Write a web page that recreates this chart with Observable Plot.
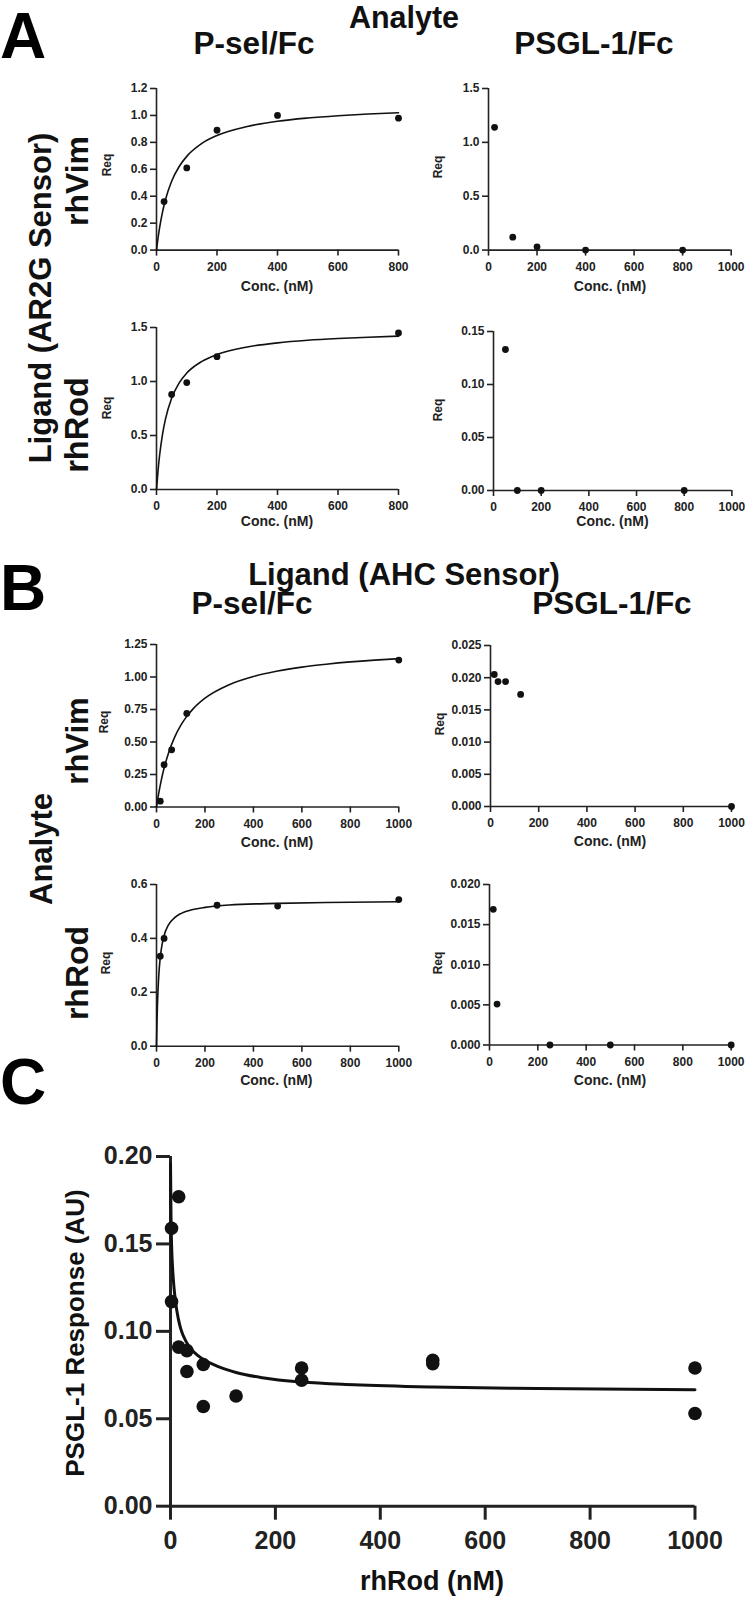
<!DOCTYPE html>
<html><head><meta charset="utf-8">
<script src="https://cdn.jsdelivr.net/npm/d3@7"></script>
<script src="https://cdn.jsdelivr.net/npm/@observablehq/plot@0.6"></script>
<style>
body{margin:0;background:#fff;}
#fig{position:relative;width:745px;height:1599px;overflow:hidden;font-family:"Liberation Sans",Arial,sans-serif;font-weight:bold;color:#111;}
.lbl{position:absolute;white-space:nowrap;line-height:1;}
</style></head>
<body><div id="fig"></div>
<script>
// ---------- Data: Panel A (AR2G sensor) ----------
const concA1 = [25, 100, 200, 400, 800];
const reqA1  = [0.36, 0.61, 0.89, 1.00, 0.98];
const concA2 = [25, 100, 200, 400, 800];
const reqA2  = [1.14, 0.12, 0.03, 0.0, 0.0];
const concA3 = [50, 100, 200, 800];
const reqA3  = [0.88, 0.99, 1.23, 1.45];
const concA4 = [50, 100, 200, 800];
const reqA4  = [0.133, 0, 0, 0];
// fitted curves
const fitXA  = [0, 5, 10, 20, 30, 50, 75, 100, 150, 200, 300, 400, 500, 600, 700, 800];
const fitYA1 = [0, 0.088, 0.163, 0.284, 0.377, 0.511, 0.621, 0.696, 0.792, 0.851, 0.918, 0.957, 0.981, 0.998, 1.011, 1.020];
const fitYA3 = [0, 0.173, 0.310, 0.513, 0.656, 0.845, 0.987, 1.078, 1.186, 1.250, 1.320, 1.358, 1.382, 1.398, 1.410, 1.420];

// ---------- Data: Panel B (AHC sensor) ----------
const concB1 = [15.6, 31.25, 62.5, 125, 1000];
const reqB1  = [0.045, 0.325, 0.44, 0.72, 1.13];
const concB2 = [15.6, 31.25, 62.5, 125, 1000];
const reqB2  = [0.0205, 0.0194, 0.0194, 0.0174, 0.0];
const concB3 = [15.6, 31.25, 250, 500, 1000];
const reqB3  = [0.334, 0.40, 0.523, 0.52, 0.544];
const concB4 = [15.6, 31.25, 250, 500, 1000];
const reqB4  = [0.0169, 0.0051, 0, 0, 0];
const fitXB1 = [0, 5, 10, 20, 30, 50, 75, 100, 125, 150, 200, 300, 400, 500, 600, 700, 800, 900, 1000];
const fitYB1 = [0, 0.060, 0.114, 0.209, 0.290, 0.418, 0.538, 0.628, 0.697, 0.753, 0.837, 0.941, 1.004, 1.046, 1.076, 1.098, 1.116, 1.130, 1.141];
const fitXB3 = [0, 1, 2, 4, 6, 8, 10, 15, 20, 30, 50, 75, 100, 150, 200, 300, 500, 700, 1000];
const fitYB3 = [0, 0.049, 0.090, 0.155, 0.203, 0.240, 0.271, 0.325, 0.361, 0.406, 0.451, 0.477, 0.492, 0.507, 0.515, 0.524, 0.530, 0.533, 0.536];

// ---------- Data: Panel C ----------
const rodC  = [2, 2, 15.6, 15.6, 31.25, 31.25, 62.5, 62.5, 125, 250, 250, 500, 500, 1000, 1000];
const respC = [0.159, 0.117, 0.177, 0.091, 0.089, 0.077, 0.081, 0.057, 0.063, 0.079, 0.072, 0.0835, 0.0815, 0.079, 0.053];
const fitXC = [0, 1, 2, 4, 7, 10, 15, 20, 30, 45, 62.5, 90, 125, 175, 250, 350, 500, 700, 1000];
const fitYC = [0.196, 0.165, 0.150, 0.136, 0.124, 0.116, 0.107, 0.101, 0.094, 0.088, 0.084, 0.080, 0.0765, 0.0735, 0.0710, 0.0695, 0.0682, 0.0673, 0.0666];

// ---------- Tick values ----------
const ticks800 = [0, 200, 400, 600, 800];
const ticks1000 = [0, 200, 400, 600, 800, 1000];

const fig = document.getElementById("fig");
const zip = (xs, ys) => xs.map((x, i) => ({x, y: ys[i]}));

function panel(o) {
  const ml = o.ml ?? 70, mr = o.mr ?? 26, mt = o.mt ?? 14, mb = o.mb ?? 36;
  const w = (o.xR - o.xL) + ml + mr, h = (o.yB - o.yT) + mt + mb;
  const sw = o.sw ?? 1.6, col = "#222";
  const marks = [
    Plot.ruleX([0], {stroke: col, strokeWidth: sw}),
    Plot.ruleY([0], {stroke: col, strokeWidth: sw}),
    Plot.axisY({ticks: o.yTicks, tickFormat: d3.format(o.yFmt), tickSize: o.ts ?? 6, tickPadding: o.tpy ?? 3,
      label: null, stroke: col, strokeWidth: sw}),
    Plot.axisX({ticks: o.xTicks, tickFormat: d3.format("d"), tickSize: o.ts ?? 6, tickPadding: o.tpx ?? 6,
      label: null, stroke: col, strokeWidth: sw})
  ];
  if (o.fx) marks.push(Plot.line(zip(o.fx, o.fy), {x: "x", y: "y", curve: "monotone-x", stroke: "#111", strokeWidth: o.lw ?? 1.6}));
  marks.push(Plot.dot(zip(o.px, o.py), {x: "x", y: "y", r: o.r ?? 3.4, fill: "#111", stroke: "none"}));
  const svg = Plot.plot({
    width: w, height: h, marginLeft: ml, marginRight: mr, marginTop: mt, marginBottom: mb,
    x: {domain: o.xDom}, y: {domain: o.yDom},
    style: {fontFamily: '"Liberation Sans", Arial, sans-serif', fontWeight: "bold", fontSize: (o.fs ?? 12) + "px",
      color: "#222", background: "transparent", overflow: "visible"},
    marks
  });
  svg.style.position = "absolute";
  svg.style.left = (o.xL - ml) + "px";
  svg.style.top = (o.yT - mt) + "px";
  svg.style.maxWidth = "none";
  fig.appendChild(svg);
}

function label(txt, x, baseline, size, anchor = "middle", color = "#111") {
  const d = document.createElement("div");
  d.className = "lbl";
  d.textContent = txt;
  d.style.fontSize = size + "px";
  d.style.color = color;
  d.style.top = (baseline - 0.8465 * size) + "px";
  d.style.left = x + "px";
  if (anchor === "middle") d.style.transform = "translateX(-50%)";
  fig.appendChild(d);
}
function vlabel(txt, cx, cy, size, color = "#111") {
  const d = document.createElement("div");
  d.className = "lbl";
  d.textContent = txt;
  d.style.fontSize = size + "px";
  d.style.color = color;
  d.style.left = cx + "px";
  d.style.top = cy + "px";
  d.style.transform = "translate(-50%,-50%) rotate(-90deg)";
  fig.appendChild(d);
}

// ---------- Panel A ----------
panel({xL: 156, xR: 398, yT: 87.7, yB: 249.3, xDom: [0, 800], yDom: [0, 1.2], xTicks: ticks800,
  yTicks: [0, 0.2, 0.4, 0.6, 0.8, 1.0, 1.2], yFmt: ".1f", px: concA1, py: reqA1, fx: fitXA, fy: fitYA1});
panel({xL: 488.3, xR: 731, yT: 87.7, yB: 249.3, xDom: [0, 1000], yDom: [0, 1.5], xTicks: ticks1000,
  yTicks: [0, 0.5, 1.0, 1.5], yFmt: ".1f", px: concA2, py: reqA2});
panel({xL: 156, xR: 398, yT: 327.3, yB: 489.3, xDom: [0, 800], yDom: [0, 1.5], xTicks: ticks800,
  yTicks: [0, 0.5, 1.0, 1.5], yFmt: ".1f", px: concA3, py: reqA3, fx: fitXA, fy: fitYA3});
panel({xL: 493.3, xR: 731.7, yT: 331, yB: 490, xDom: [0, 1000], yDom: [0, 0.15], xTicks: ticks1000,
  yTicks: [0, 0.05, 0.10, 0.15], yFmt: ".2f", px: concA4, py: reqA4});

// ---------- Panel B ----------
panel({xL: 156, xR: 398.3, yT: 643.5, yB: 806, xDom: [0, 1000], yDom: [0, 1.25], xTicks: ticks1000,
  yTicks: [0, 0.25, 0.5, 0.75, 1.0, 1.25], yFmt: ".2f", px: concB1, py: reqB1, fx: fitXB1, fy: fitYB1});
panel({xL: 490, xR: 731, yT: 645, yB: 806, xDom: [0, 1000], yDom: [0, 0.025], xTicks: ticks1000,
  yTicks: [0, 0.005, 0.010, 0.015, 0.020, 0.025], yFmt: ".3f", px: concB2, py: reqB2});
panel({xL: 156, xR: 398.3, yT: 884.3, yB: 1046, xDom: [0, 1000], yDom: [0, 0.6], xTicks: ticks1000,
  yTicks: [0, 0.2, 0.4, 0.6], yFmt: ".1f", px: concB3, py: reqB3, fx: fitXB3, fy: fitYB3});
panel({xL: 489.3, xR: 731, yT: 884, yB: 1044.5, xDom: [0, 1000], yDom: [0, 0.02], xTicks: ticks1000,
  yTicks: [0, 0.005, 0.010, 0.015, 0.020], yFmt: ".3f", px: concB4, py: reqB4});

// ---------- Panel C ----------
panel({xL: 170, xR: 694.5, yT: 1156, yB: 1505.7, xDom: [0, 1000], yDom: [0, 0.20], xTicks: ticks1000,
  yTicks: [0, 0.05, 0.10, 0.15, 0.20], yFmt: ".2f", px: rodC, py: respC, fx: fitXC, fy: fitYC,
  ml: 110, mr: 50, mt: 16, mb: 56, sw: 3, lw: 3, ts: 14, tpy: 4, tpx: 11.5, fs: 25, r: 6.8});

// ---------- Text ----------
label("A", 0, 58, 64, "start", "#000");
label("Analyte", 404, 28, 30.5);
label("P-sel/Fc", 254, 55, 31.5);
label("PSGL-1/Fc", 594, 55, 31.5);
vlabel("Ligand (AR2G Sensor)", 40, 298, 31);
vlabel("rhVim", 77, 181, 32);
vlabel("rhRod", 77, 425, 32.5);

label("B", 0, 610, 64, "start", "#000");
label("Ligand (AHC Sensor)", 404, 585, 31);
label("P-sel/Fc", 252, 615, 31.5);
label("PSGL-1/Fc", 612, 615, 31.5);
vlabel("rhVim", 77, 741, 31);
vlabel("Analyte", 41, 849, 31);
vlabel("rhRod", 77, 973, 32);

label("C", 0, 1104, 64, "start", "#000");

// small axis titles
const reqPos = [[107, 165], [438, 167], [106.5, 408], [438, 410], [104, 722], [440, 724], [106, 963], [438, 963]];
reqPos.forEach(([x, y]) => vlabel("Req", x, y, 12, "#222"));
const concPos = [[277, 291], [610, 291], [277, 526], [612.5, 526], [277, 847], [610, 846], [276.3, 1085], [610, 1085]];
concPos.forEach(([x, b]) => label("Conc. (nM)", x, b, 14, "middle", "#222"));

vlabel("PSGL-1 Response (AU)", 75, 1333, 26);
label("rhRod (nM)", 432, 1591, 27);
</script>
</body></html>
